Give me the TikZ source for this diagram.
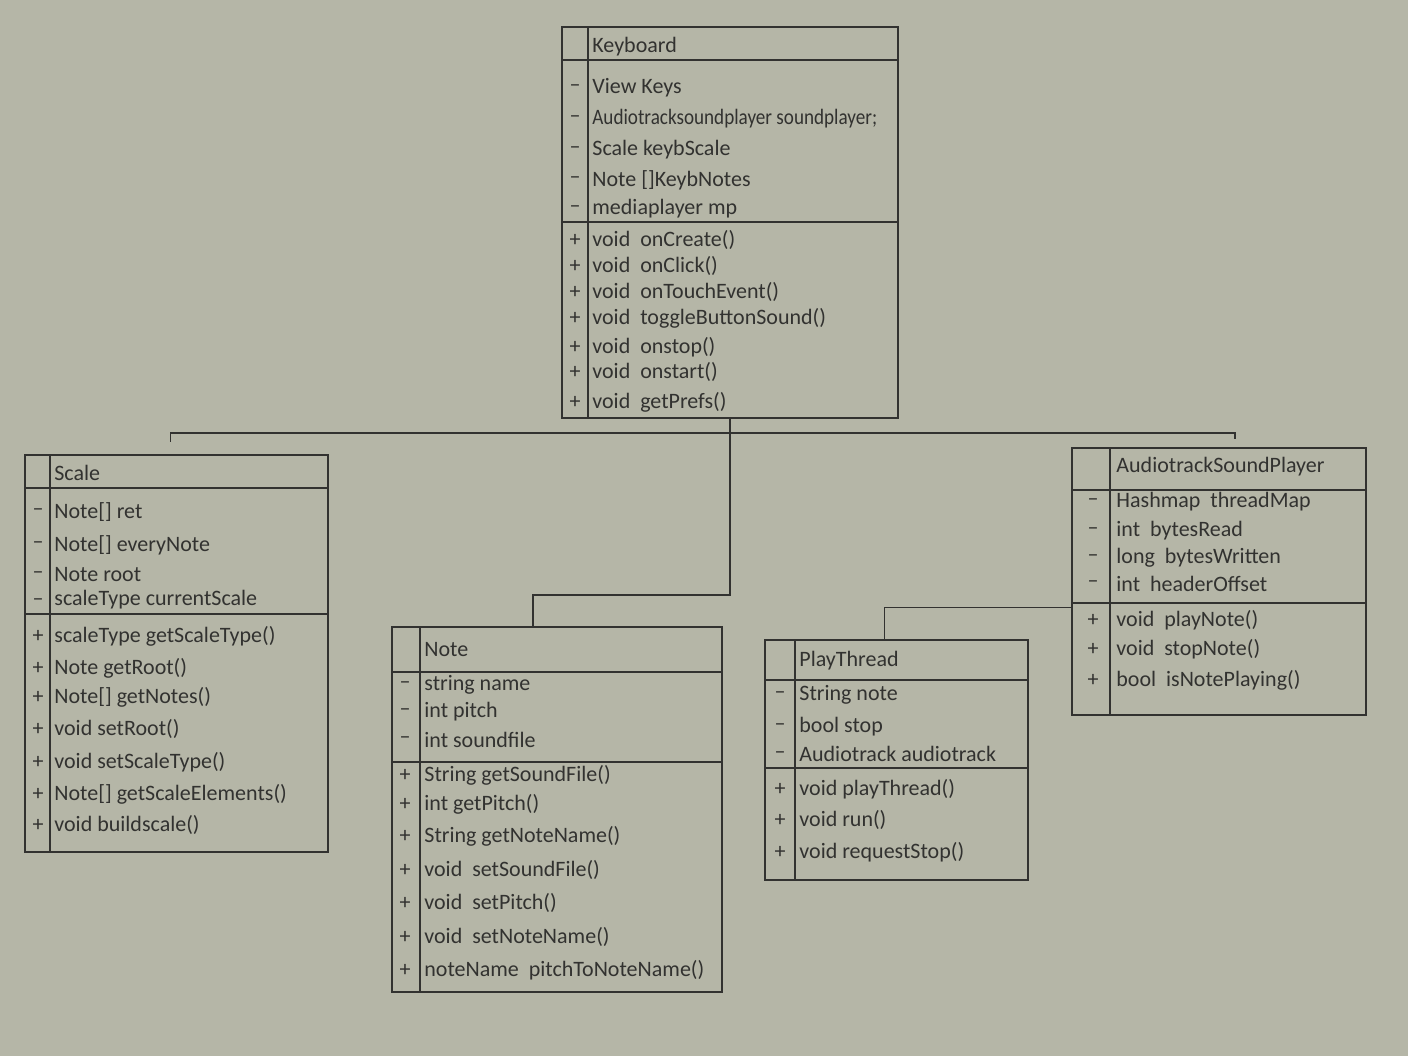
\documentclass[tikz,border=0pt]{standalone}
\usepackage{fontspec}
\setmainfont{Carlito}
\usetikzlibrary{fit,calc}
\definecolor{paper}{RGB}{181,182,167}
\definecolor{pencil}{RGB}{50,50,48}
\tikzset{
  classbox/.style={draw=pencil,line width=0.8pt,inner sep=0pt},
  member/.style={anchor=west,inner sep=0pt,text=pencil,font=\fontsize{11}{13}\selectfont},
  vis/.style={inner sep=0pt,text=pencil,font=\fontsize{11}{13}\selectfont},
  link/.style={draw=pencil,line width=0.8pt},
}

\begin{document}
\begin{tikzpicture}[x=0.5pt,y=-0.5pt]
    \fill[paper](0,0)rectangle(1408,1056);
    \useasboundingbox(0,0)rectangle(1408,1056);
    % Keyboard
    \coordinate(kbNW) at (562,27);
    \coordinate(kbSE) at (898,418);
    \node[classbox,fit=(kbNW)(kbSE)](keyboard){};
    \draw[link](588,27)--(588,418);
    \draw[link](562,60)--(898,60);
    \draw[link](562,222)--(898,222);
    \node[member](kbname) at (592,47){Keyboard};
    \node[vis](kbv1) at (575,88){--};
    \node[vis](kbv2) at (575,119){--};
    \node[vis](kbv3) at (575,150){--};
    \node[vis](kbv4) at (575,180){--};
    \node[vis](kbv5) at (575,209){--};
    \node[member](kba1) at (592,88){View Keys};
    \node[member](kba2) at (592,119){\addfontfeatures{FakeStretch=0.87}Audiotracksoundplayer soundplayer;};
    \node[member](kba3) at (592,150){Scale keybScale};
    \node[member](kba4) at (592,180){Note []KeybNotes};
    \node[member](kba5) at (592,209){mediaplayer mp};
    \node[vis](kbw1) at (575,240){+};
    \node[vis](kbw2) at (575,266){+};
    \node[vis](kbw3) at (575,292){+};
    \node[vis](kbw4) at (575,318){+};
    \node[vis](kbw5) at (575,347){+};
    \node[vis](kbw6) at (575,372){+};
    \node[vis](kbw7) at (575,402){+};
    \node[member](kbm1) at (592,240){void\ \ onCreate()};
    \node[member](kbm2) at (592,266){void\ \ onClick()};
    \node[member](kbm3) at (592,292){void\ \ onTouchEvent()};
    \node[member](kbm4) at (592,318){void\ \ toggleButtonSound()};
    \node[member](kbm5) at (592,347){void\ \ onstop()};
    \node[member](kbm6) at (592,372){void\ \ onstart()};
    \node[member](kbm7) at (592,402){void\ \ getPrefs()};
    % Scale
    \coordinate(scNW) at (25,455);
    \coordinate(scSE) at (328,852);
    \node[classbox,fit=(scNW)(scSE)](scale){};
    \draw[link](50,455)--(50,852);
    \draw[link](25,488)--(328,488);
    \draw[link](25,614)--(328,614);
    \node[member](scname) at (54,473){Scale};
    \node[vis](scv1) at (38,512){--};
    \node[vis](scv2) at (38,545){--};
    \node[vis](scv3) at (38,575){--};
    \node[vis](scv4) at (38,602){--};
    \node[member](sca1) at (54,512){Note[] ret};
    \node[member](sca2) at (54,545){Note[] everyNote};
    \node[member](sca3) at (54,575){Note root};
    \node[member](sca4) at (54,600){scaleType currentScale};
    \node[vis](scw1) at (38,636){+};
    \node[vis](scw2) at (38,668){+};
    \node[vis](scw3) at (38,697){+};
    \node[vis](scw4) at (38,729){+};
    \node[vis](scw5) at (38,762){+};
    \node[vis](scw6) at (38,794){+};
    \node[vis](scw7) at (38,825){+};
    \node[member](scm1) at (54,636){scaleType getScaleType()};
    \node[member](scm2) at (54,668){Note getRoot()};
    \node[member](scm3) at (54,697){Note[] getNotes()};
    \node[member](scm4) at (54,729){void setRoot()};
    \node[member](scm5) at (54,762){void setScaleType()};
    \node[member](scm6) at (54,794){Note[] getScaleElements()};
    \node[member](scm7) at (54,825){void buildscale()};
    % Note
    \coordinate(ntNW) at (392,627);
    \coordinate(ntSE) at (722,992);
    \node[classbox,fit=(ntNW)(ntSE)](note){};
    \draw[link](420,627)--(420,992);
    \draw[link](392,672)--(722,672);
    \draw[link](392,762)--(722,762);
    \node[member](ntname) at (424,650){Note};
    \node[vis](ntv1) at (405,685){--};
    \node[vis](ntv2) at (405,712){--};
    \node[vis](ntv3) at (405,740){--};
    \node[member](nta1) at (424,685){string name};
    \node[member](nta2) at (424,712){int pitch};
    \node[member](nta3) at (424,740){int soundfile};
    \node[vis](ntw1) at (405,775){+};
    \node[vis](ntw2) at (405,804){+};
    \node[vis](ntw3) at (405,836){+};
    \node[vis](ntw4) at (405,870){+};
    \node[vis](ntw5) at (405,903){+};
    \node[vis](ntw6) at (405,937){+};
    \node[vis](ntw7) at (405,970){+};
    \node[member](ntm1) at (424,775){String getSoundFile()};
    \node[member](ntm2) at (424,804){int getPitch()};
    \node[member](ntm3) at (424,836){String getNoteName()};
    \node[member](ntm4) at (424,870){void\ \ setSoundFile()};
    \node[member](ntm5) at (424,903){void\ \ setPitch()};
    \node[member](ntm6) at (424,937){void\ \ setNoteName()};
    \node[member](ntm7) at (424,970){noteName\ \ pitchToNoteName()};
    % PlayThread
    \coordinate(ptNW) at (765,640);
    \coordinate(ptSE) at (1028,880);
    \node[classbox,fit=(ptNW)(ptSE)](playthread){};
    \draw[link](795,640)--(795,880);
    \draw[link](765,680)--(1028,680);
    \draw[link](765,768)--(1028,768);
    \node[member](ptname) at (799,661){PlayThread};
    \node[vis](ptv1) at (780,695){--};
    \node[vis](ptv2) at (780,727){--};
    \node[vis](ptv3) at (780,755){--};
    \node[member](pta1) at (799,695){String note};
    \node[member](pta2) at (799,727){bool stop};
    \node[member](pta3) at (799,754){Audiotrack audiotrack};
    \node[vis](ptw1) at (780,789){+};
    \node[vis](ptw2) at (780,820){+};
    \node[vis](ptw3) at (780,852){+};
    \node[member](ptm1) at (799,789){void playThread()};
    \node[member](ptm2) at (799,820){void run()};
    \node[member](ptm3) at (799,852){void requestStop()};
    % AudiotrackSoundPlayer
    \coordinate(spNW) at (1072,448);
    \coordinate(spSE) at (1366,715);
    \node[classbox,fit=(spNW)(spSE)](atsp){};
    \draw[link](1110,448)--(1110,715);
    \draw[link](1072,490)--(1366,490);
    \draw[link](1072,603)--(1366,603);
    \node[member](spname) at (1116,467){AudiotrackSoundPlayer};
    \node[vis](spv1) at (1093,502){--};
    \node[vis](spv2) at (1093,531){--};
    \node[vis](spv3) at (1093,558){--};
    \node[vis](spv4) at (1093,584){--};
    \node[member](spa1) at (1116,502){Hashmap\ \ threadMap};
    \node[member](spa2) at (1116,531){int\ \ bytesRead};
    \node[member](spa3) at (1116,558){long\ \ bytesWritten};
    \node[member](spa4) at (1116,584){int\ \ headerOffset};
    \node[vis](spw1) at (1093,620){+};
    \node[vis](spw2) at (1093,649){+};
    \node[vis](spw3) at (1093,680){+};
    \node[member](spm1) at (1116,620){void\ \ playNote()};
    \node[member](spm2) at (1116,649){void\ \ stopNote()};
    \node[member](spm3) at (1116,680){bool\ \ isNotePlaying()};
    % connectors
    \path(keyboard.south)++(0,14)coordinate(hub);
    \draw[link](keyboard.south)--(hub);
    \draw[link,shorten >=6pt](hub)-|([xshift=-3pt]scale.north);
    \draw[link,shorten >=4pt](hub)-|([xshift=8pt]atsp.north);
    \draw[link](hub)--++(0,162)-|([xshift=-12pt]note.north);
    \draw[link]([yshift=-13pt]atsp.west)-|([xshift=-6pt]playthread.north);
\end{tikzpicture}
\end{document}
